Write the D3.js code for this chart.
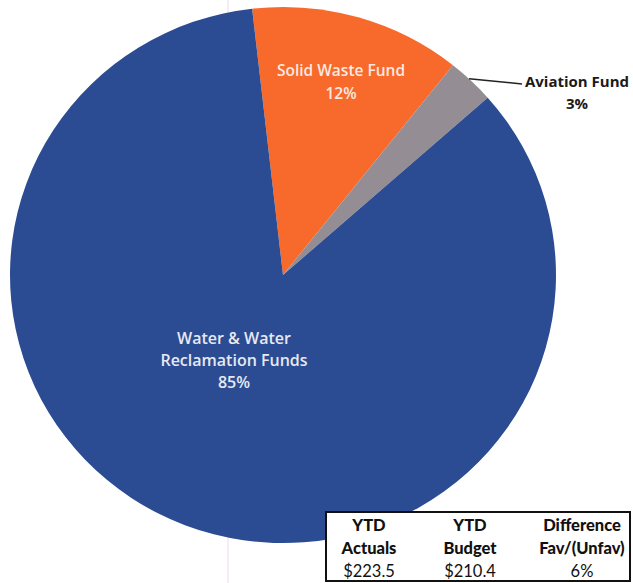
<!DOCTYPE html>
<html><head><meta charset="utf-8">
<script src="https://cdn.jsdelivr.net/npm/d3@7"></script>
<style>html,body{margin:0;padding:0;background:#fff;}svg{display:block;}</style>
</head><body>
<svg id="c" width="633" height="583"></svg>
<script>
const categories = ["Solid Waste Fund", "Aviation Fund", "Water & Water Reclamation Funds"];
const values = [12.5, 2.8, 84.7];
const labels = ["12%", "3%", "85%"];
const colors = ["#f86a2c", "#948d93", "#2b4b93"];
const tableHeads1 = ["YTD", "YTD", "Difference"];
const tableHeads2 = ["Actuals", "Budget", "Fav/(Unfav)"];
const tableValues = ["$223.5", "$210.4", "6%"];

const svg = d3.select("#c");
const cx = 283, cy = 275, r = 273;
const startA = -6.5 * Math.PI / 180;

// faint scan line
svg.append("line").attr("x1", 228).attr("x2", 228).attr("y1", 0).attr("y2", 583)
  .attr("stroke", "#f0d8ec").attr("stroke-width", 1);

const pie = d3.pie().sort(null).value(d => d).startAngle(startA).endAngle(startA + 2 * Math.PI);
const arcs = pie(values);
const arc = d3.arc().innerRadius(0).outerRadius(r);
const g = svg.append("g").attr("transform", `translate(${cx},${cy}) scale(1,0.982)`);
g.selectAll("path").data(arcs).enter().append("path")
  .attr("d", arc).attr("fill", (d, i) => colors[i]);

const font = "'Open Sans', 'DejaVu Sans', sans-serif";
// Solid waste label
const t1 = svg.append("text").attr("font-family", font).attr("font-weight", 600)
  .attr("font-size", 15.5).attr("fill", "#fbe9e0").attr("text-anchor", "middle");
t1.append("tspan").attr("x", 341).attr("y", 75.5).text(categories[0]);
t1.append("tspan").attr("x", 341).attr("y", 98.5).text(labels[0]);

// Water label
const t3 = svg.append("text").attr("font-family", font).attr("font-weight", 600)
  .attr("font-size", 16).attr("fill", "#e6e9f2").attr("text-anchor", "middle");
t3.append("tspan").attr("x", 234).attr("y", 344).text("Water & Water");
t3.append("tspan").attr("x", 234).attr("y", 366).text("Reclamation Funds");
t3.append("tspan").attr("x", 234).attr("y", 388).text(labels[2]);

// Aviation leader + label
const av = arcs[1];
const midA = (av.startAngle + av.endAngle) / 2;
const ex = cx + Math.sin(midA) * r, ey = cy - Math.cos(midA) * r * 0.982;
svg.append("path").attr("d", `M${ex - 2},${ey - 2} L${522},${84}`)
  .attr("stroke", "#222").attr("stroke-width", 1.5).attr("fill", "none");
const t2 = svg.append("text").attr("font-family", font).attr("font-weight", 700)
  .attr("font-size", 15).attr("fill", "#1a1a1a").attr("text-anchor", "middle");
t2.append("tspan").attr("x", 577).attr("y", 87).text(categories[1]);
t2.append("tspan").attr("x", 577).attr("y", 108.5).text(labels[1]);

// table
svg.append("rect").attr("x", 326).attr("y", 512).attr("width", 304).attr("height", 69)
  .attr("fill", "#fff").attr("stroke", "#111").attr("stroke-width", 2);
const colXs = [369, 470, 582];
const tf = "Lato, 'DejaVu Sans', sans-serif";
[tableHeads1, tableHeads2].forEach((row, ri) => {
  svg.selectAll(null).data(row).enter().append("text")
    .attr("x", (d, i) => colXs[i]).attr("y", 531 + ri * 23)
    .attr("text-anchor", "middle").attr("font-family", tf).attr("font-weight", 900)
    .attr("font-size", 16.5).attr("fill", "#111").text(d => d);
});
svg.selectAll(null).data(tableValues).enter().append("text")
  .attr("x", (d, i) => colXs[i]).attr("y", 577)
  .attr("text-anchor", "middle").attr("font-family", tf).attr("font-weight", 400)
  .attr("font-size", 16.5).attr("fill", "#111").text(d => d);
</script>
</body></html>
